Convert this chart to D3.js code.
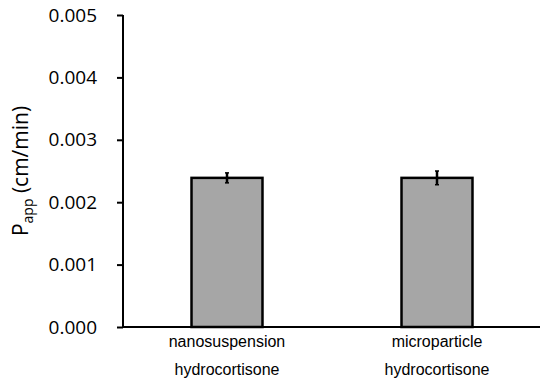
<!DOCTYPE html>
<html><head><meta charset="utf-8">
<script src="https://cdn.jsdelivr.net/npm/d3@7"></script>
<style>body{margin:0;background:#fff}</style>
</head><body>
<svg id="c" width="550" height="384"></svg>
<script>
const categories = [["nanosuspension","hydrocortisone"],["microparticle","hydrocortisone"]];
const values = [0.00239, 0.00239];
const errors = [0.00008, 0.00011];
const yTicks = [0, 0.001, 0.002, 0.003, 0.004, 0.005];

(function(){
const svg = d3.select("#c");
const mLeft = 123, mRight = 540, mTop = 15, mBottom = 327;
const keys = categories.map((c,i)=>i);
const x = d3.scaleBand().domain(keys).range([122, 542]).paddingInner(0.662).paddingOuter(0.331);
const y = d3.scaleLinear().domain([0, 0.005]).range([mBottom, mTop]);

// bars
svg.selectAll("rect.bar").data(values).enter().append("rect")
  .attr("x",(d,i)=>x(i)).attr("width",x.bandwidth())
  .attr("y",d=>y(d)).attr("height",d=>y(0)-y(d))
  .attr("fill","#a6a6a6").attr("stroke","#000").attr("stroke-width",2.5);

// error bars
const eb = svg.selectAll("g.err").data(values).enter().append("g");
eb.append("line").attr("x1",(d,i)=>x(i)+x.bandwidth()/2).attr("x2",(d,i)=>x(i)+x.bandwidth()/2)
  .attr("y1",(d,i)=>y(d-errors[i])).attr("y2",(d,i)=>y(d+errors[i])).attr("stroke","#000").attr("stroke-width",2.5);
[-1,1].forEach(s=>{
  eb.append("line").attr("x1",(d,i)=>x(i)+x.bandwidth()/2-2).attr("x2",(d,i)=>x(i)+x.bandwidth()/2+2)
    .attr("y1",(d,i)=>y(d+s*errors[i])).attr("y2",(d,i)=>y(d+s*errors[i])).attr("stroke","#000").attr("stroke-width",1.5);
});

// y axis
const ya = svg.append("g").attr("transform",`translate(${mLeft},0)`)
  .call(d3.axisLeft(y).tickValues(yTicks).tickFormat(d3.format(".3f")).tickSize(6).tickPadding(20));
ya.select(".domain").attr("stroke","#000").attr("stroke-width",2).attr("d",`M0,${mTop}V${mBottom}`);
ya.selectAll(".tick line").attr("stroke","#000").attr("stroke-width",2);
ya.selectAll(".tick text").attr("font-family","'Open Sans', sans-serif").attr("font-size",19).attr("fill","#000");

// x axis line
svg.append("line").attr("x1",mLeft-1).attr("x2",mRight).attr("y1",mBottom).attr("y2",mBottom)
  .attr("stroke","#000").attr("stroke-width",2);

// category labels
categories.forEach((c,i)=>{
  c.forEach((t,j)=>{
    svg.append("text").attr("x",x(i)+x.bandwidth()/2).attr("y",347+j*28)
      .attr("text-anchor","middle").attr("font-family","'Liberation Sans', Arial, sans-serif")
      .attr("font-size",16).attr("fill","#000").text(t);
  });
});

// y label
const yl = svg.append("text").attr("transform","translate(28,171) rotate(-90)")
  .attr("text-anchor","middle").attr("font-family","'Open Sans', sans-serif").attr("font-size",21).attr("fill","#000");
yl.append("tspan").text("P");
yl.append("tspan").attr("font-size",14).attr("dy",5).text("app");
yl.append("tspan").attr("dy",-5).text(" (cm/min)");
})();
</script>
</body></html>
